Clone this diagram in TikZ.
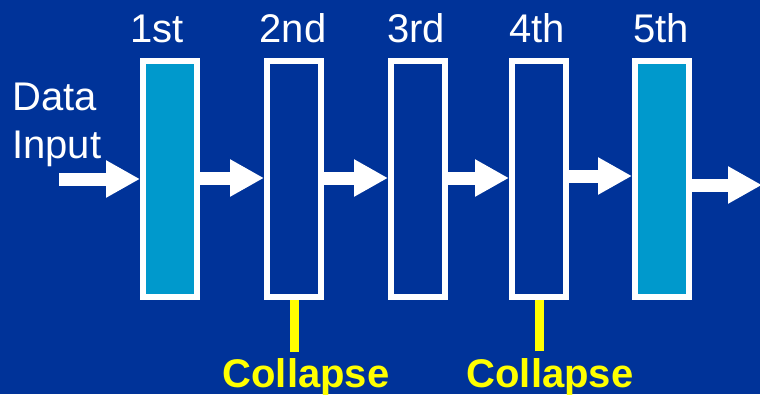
\documentclass[tikz,border=0pt]{standalone}
\usepackage{fontspec}
\setmainfont{Liberation Sans}
\usetikzlibrary{arrows.meta}
\definecolor{bgblue}{RGB}{0,51,153}
\definecolor{layercyan}{RGB}{0,153,204}
\definecolor{collapseyellow}{RGB}{255,255,0}
\begin{document}
\begin{tikzpicture}[x=1pt,y=-1pt,
  layerbox/.style={draw=white,line width=6pt,minimum width=54pt,minimum height=236pt,inner sep=0pt},
  fullbox/.style={layerbox,fill=layercyan},
  emptybox/.style={layerbox,fill=bgblue},
  flow/.style={white,line width=13pt,-{Triangle[width=35pt,length=34pt]}},
  ordinal/.style={white,font=\fontsize{40}{40}\selectfont,anchor=base},
  collapseline/.style={draw=collapseyellow,line width=9pt},
  collapselabel/.style={text=collapseyellow,font=\fontsize{40}{40}\selectfont\bfseries,anchor=base}]
% background and page size
\fill[bgblue] (0,0) rectangle (760,394);
\useasboundingbox (0,0) rectangle (760,394);
\begin{scope}
\clip (0,0) rectangle (760,394);
% layers
\node[fullbox]  (b1) at (170,179) {};
\node[emptybox] (b2) at (294,179) {};
\node[emptybox] (b3) at (418,179) {};
\node[emptybox] (b4) at (539,179) {};
\node[fullbox]  (b5) at (662,179) {};
% layer labels
\node[ordinal] (l1) at (157,42) {1st};
\node[ordinal] (l2) at (293,42) {2nd};
\node[ordinal] (l3) at (416,42) {3rd};
\node[ordinal] (l4) at (537,42) {4th};
\node[ordinal] (l5) at (661,42) {5th};
% input text
\node[white,font=\fontsize{40}{40}\selectfont,anchor=base west,inner sep=0pt] (data) at (12,110) {Data};
\node[white,font=\fontsize{40}{40}\selectfont,anchor=base west,inner sep=0pt] (input) at (12,158) {Input};
% data flow
\coordinate (in) at (59,179);
\coordinate (out) at (762,185);
\draw[flow] (in) -- (b1.west |- in);
\draw[flow] ([yshift=1pt]b1.east) -- ([yshift=1pt]b2.west);
\draw[flow] ([yshift=1pt]b2.east) -- ([yshift=1pt]b3.west);
\draw[flow] ([yshift=1pt]b3.east) -- ([yshift=1pt]b4.west);
\draw[flow] ([yshift=3pt]b4.east) -- ([yshift=3pt]b5.west);
\draw[flow] (b5.east |- out) -- (out);
% collapse markers
\coordinate (c2) at (294,352);
\coordinate (c4) at (539,351);
\draw[collapseline] (b2.south) -- (c2);
\draw[collapseline] (b4.south) -- (c4);
\node[collapselabel] (t2) at (306,387) {Collapse};
\node[collapselabel] (t4) at (550,387) {Collapse};
\end{scope}
\end{tikzpicture}
\end{document}
